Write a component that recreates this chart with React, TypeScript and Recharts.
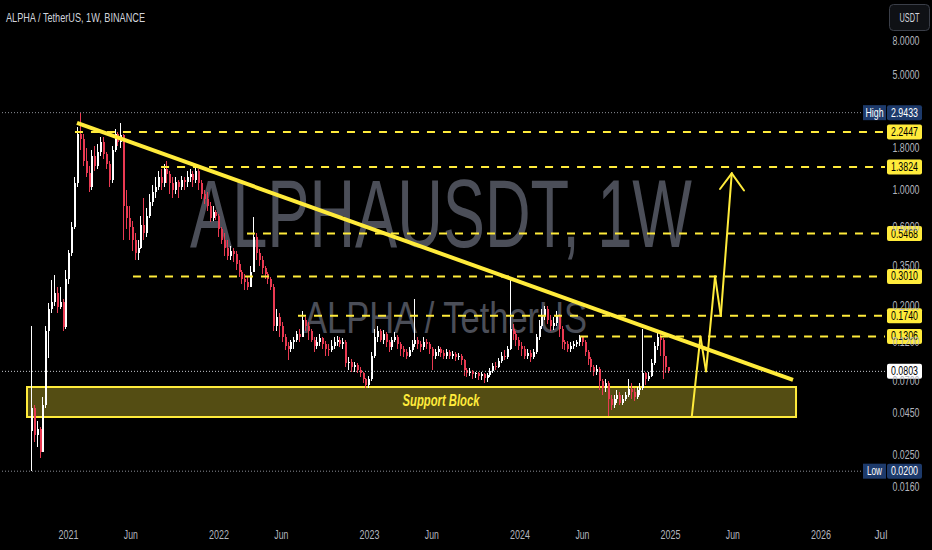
import React from "react";
import { Bar, ComposedChart, ReferenceArea, ReferenceDot, ReferenceLine, XAxis, YAxis } from "recharts";

// weekly candles, first one starts Mon 2020-10-05
const WEEK0 = 2020.7596;
const WEEK = 7 / 365.25;
const OPEN0 = 0.035;

const CLOSE = [
  0.048, 0.033, 0.036, 0.026, 0.05, 0.14, 0.19, 0.21, 0.24, 0.196, 0.21, 0.148, 0.29, 0.42, 0.6, 1.1, 2.2, 2.05, 1.5, 1.27,
  1.05, 1.6, 1.4, 1.7, 1.95, 1.65, 1.45, 1.15, 1.75, 2.2, 1.95, 2.15, 0.8, 0.68, 0.6, 0.5, 0.42, 0.45, 0.62, 0.55,
  0.7, 0.85, 0.98, 1.05, 1.2, 1.1, 1.35, 1.25, 1.1, 1.0, 1.12, 1.05, 1.15, 1.12, 1.2, 1.25, 1.15, 1.3, 1.1, 0.95,
  0.88, 0.8, 0.68, 0.74, 0.7, 0.58, 0.5, 0.45, 0.4, 0.43, 0.41, 0.36, 0.32, 0.29, 0.28, 0.26, 0.32, 0.52, 0.42, 0.38,
  0.34, 0.31, 0.29, 0.26, 0.15, 0.17, 0.15, 0.13, 0.115, 0.11, 0.12, 0.125, 0.135, 0.13, 0.165, 0.15, 0.14, 0.125, 0.115, 0.12,
  0.128, 0.118, 0.11, 0.108, 0.115, 0.12, 0.125, 0.118, 0.12, 0.09, 0.092, 0.085, 0.088, 0.082, 0.078, 0.072, 0.066, 0.072, 0.1, 0.13,
  0.14, 0.125, 0.135, 0.12, 0.112, 0.125, 0.13, 0.118, 0.11, 0.105, 0.1, 0.108, 0.118, 0.125, 0.118, 0.112, 0.12, 0.118, 0.11, 0.1,
  0.105, 0.11, 0.104, 0.1, 0.105, 0.1, 0.102, 0.098, 0.1, 0.094, 0.082, 0.078, 0.08, 0.077, 0.078, 0.075, 0.077, 0.073, 0.076, 0.081,
  0.087, 0.085, 0.093, 0.1, 0.098, 0.11, 0.145, 0.135, 0.125, 0.115, 0.11, 0.1, 0.104, 0.098, 0.105, 0.13, 0.15, 0.175, 0.19, 0.165,
  0.15, 0.158, 0.175, 0.145, 0.12, 0.118, 0.11, 0.115, 0.118, 0.12, 0.13, 0.12, 0.105, 0.095, 0.085, 0.08, 0.083, 0.07, 0.064, 0.068,
  0.055, 0.05, 0.055, 0.058, 0.052, 0.055, 0.058, 0.063, 0.06, 0.056, 0.062, 0.064, 0.078, 0.072, 0.075, 0.09, 0.115, 0.13, 0.125, 0.1,
  0.085, 0.0803,
];
const HIGH = [
  0.15, 0.05, 0.04, 0.037, 0.056, 0.15, 0.207, 0.286, 0.306, 0.26, 0.26, 0.22, 0.33, 0.435, 0.64, 1.2, 2.4, 2.9433, 2.2, 1.8,
  1.4, 1.75, 1.85, 1.9, 2.1, 2.1, 1.7, 1.5, 1.85, 2.35, 2.25, 2.55, 2.2, 1.0, 0.8, 0.65, 0.55, 0.5, 0.7, 0.9,
  0.78, 0.95, 1.08, 1.2, 1.3, 1.35, 1.45, 1.5, 1.3, 1.2, 1.2, 1.15, 1.22, 1.2, 1.3, 1.35, 1.3, 1.4, 1.35, 1.15,
  1.0, 0.98, 0.85, 0.8, 0.76, 0.72, 0.6, 0.55, 0.5, 0.46, 0.45, 0.43, 0.38, 0.33, 0.31, 0.3, 0.35, 0.69, 0.55, 0.44,
  0.4, 0.35, 0.32, 0.3, 0.27, 0.19, 0.18, 0.16, 0.135, 0.12, 0.125, 0.13, 0.14, 0.145, 0.185, 0.17, 0.16, 0.145, 0.13, 0.13,
  0.135, 0.13, 0.122, 0.118, 0.125, 0.13, 0.132, 0.13, 0.128, 0.125, 0.098, 0.095, 0.092, 0.09, 0.085, 0.08, 0.073, 0.075, 0.105, 0.145,
  0.15, 0.145, 0.142, 0.138, 0.125, 0.13, 0.138, 0.133, 0.12, 0.115, 0.11, 0.113, 0.125, 0.22, 0.13, 0.122, 0.13, 0.126, 0.12, 0.112,
  0.11, 0.115, 0.112, 0.108, 0.11, 0.108, 0.107, 0.105, 0.104, 0.102, 0.096, 0.084, 0.084, 0.082, 0.08, 0.08, 0.08, 0.078, 0.078, 0.084,
  0.09, 0.092, 0.097, 0.105, 0.108, 0.115, 0.3, 0.155, 0.14, 0.13, 0.12, 0.115, 0.11, 0.108, 0.11, 0.135, 0.165, 0.19, 0.2, 0.2,
  0.175, 0.17, 0.185, 0.178, 0.15, 0.125, 0.122, 0.12, 0.123, 0.125, 0.134, 0.13, 0.125, 0.108, 0.098, 0.088, 0.088, 0.085, 0.072, 0.072,
  0.07, 0.058, 0.058, 0.062, 0.06, 0.058, 0.06, 0.072, 0.068, 0.064, 0.065, 0.068, 0.145, 0.08, 0.08, 0.095, 0.12, 0.138, 0.14, 0.128,
  0.098, 0.084,
];
const LOW = [
  0.02, 0.03, 0.028, 0.024, 0.026, 0.048, 0.097, 0.18, 0.2, 0.18, 0.19, 0.14, 0.145, 0.27, 0.4, 0.58, 1.05, 1.75, 1.4, 1.2,
  0.97, 1.0, 1.3, 1.35, 1.6, 1.55, 1.35, 1.05, 1.1, 1.7, 1.85, 1.8, 0.5, 0.58, 0.5, 0.43, 0.38, 0.38, 0.44, 0.5,
  0.52, 0.68, 0.8, 0.9, 1.0, 1.0, 1.05, 1.1, 0.95, 0.9, 0.95, 0.9, 1.0, 1.0, 1.05, 1.12, 1.05, 1.1, 1.0, 0.88,
  0.82, 0.75, 0.64, 0.65, 0.66, 0.52, 0.47, 0.4, 0.38, 0.38, 0.37, 0.33, 0.3, 0.27, 0.25, 0.25, 0.26, 0.32, 0.38, 0.35,
  0.31, 0.29, 0.27, 0.25, 0.14, 0.14, 0.13, 0.12, 0.108, 0.094, 0.105, 0.11, 0.12, 0.12, 0.13, 0.14, 0.125, 0.12, 0.105, 0.11,
  0.115, 0.11, 0.1, 0.1, 0.105, 0.11, 0.115, 0.112, 0.11, 0.085, 0.082, 0.08, 0.08, 0.078, 0.074, 0.068, 0.064, 0.064, 0.07, 0.097,
  0.12, 0.12, 0.118, 0.112, 0.105, 0.108, 0.12, 0.11, 0.1, 0.098, 0.095, 0.098, 0.105, 0.112, 0.11, 0.105, 0.108, 0.11, 0.102, 0.082,
  0.095, 0.1, 0.098, 0.095, 0.096, 0.095, 0.096, 0.093, 0.094, 0.088, 0.075, 0.074, 0.075, 0.072, 0.073, 0.071, 0.071, 0.068, 0.069, 0.074,
  0.079, 0.082, 0.084, 0.09, 0.094, 0.095, 0.108, 0.125, 0.115, 0.108, 0.1, 0.095, 0.096, 0.092, 0.095, 0.102, 0.125, 0.145, 0.165, 0.155,
  0.14, 0.142, 0.15, 0.13, 0.11, 0.108, 0.105, 0.105, 0.11, 0.112, 0.115, 0.115, 0.1, 0.088, 0.08, 0.075, 0.076, 0.062, 0.058, 0.06,
  0.043, 0.047, 0.048, 0.052, 0.05, 0.05, 0.053, 0.056, 0.055, 0.053, 0.055, 0.058, 0.062, 0.066, 0.07, 0.074, 0.088, 0.108, 0.1, 0.072,
  0.078, 0.078,
];

const TIME_TICKS = [2021, 2021.414, 2022, 2022.414, 2023, 2023.414, 2024, 2024.415, 2025, 2025.414, 2026];
const TIME_LABELS = ["2021", "Jun", "2022", "Jun", "2023", "Jun", "2024", "Jun", "2025", "Jun", "2026"];
const PRICE_TICKS = [0.016, 0.025, 0.045, 0.07, 0.12, 0.2, 0.35, 0.6, 1, 1.8, 5, 8];

const LEVELS = [2.2447, 1.3824, 0.5468, 0.301, 0.174, 0.1306];
const LEVEL_LABELS = ["2.2447", "1.3824", "0.5468", "0.3010", "0.1740", "0.1306"];
const LEVEL_FROM = [2021.043, 2021.615, 2022.186, 2021.4286, 2022.525, 2024.399];

const HIGH_PRICE = 2.9433;
const LOW_PRICE = 0.02;
const LAST_PRICE = 0.0803;

const TREND_T = [2021.0565, 2025.814];
const TREND_P = [2.549, 0.0712];

const SUPPORT_T = [2020.7243, 2025.834];
const SUPPORT_P = [0.0425, 0.0646];
const SUPPORT_TAG = [2023.475, 0.0535];

const ARROW_T = [2025.141, 2025.199, 2025.236, 2025.296, 2025.334, 2025.407];
const ARROW_P = [0.0425, 0.1306, 0.0803, 0.301, 0.174, 1.265];
const HEAD_T = [2025.329, 2025.4884];
const HEAD_P = [1.017, 0.996];

const X_MIN = 2020.5449;
const X_MAX = 2026.4252;
const Y_MIN = 0.011651;
const Y_MAX = 14.125;

const YELLOW = "#ffeb3b";
const RED = "#ea3a52";
const AXIS_TEXT = "#b2b5be";
const FONT = "'Liberation Sans', Arial, sans-serif";

const candles = CLOSE.map((c, i) => {
  const o = i === 0 ? OPEN0 : CLOSE[i - 1];
  const h = Math.max(HIGH[i], o, c);
  const l = Math.min(LOW[i], o, c);
  return { t: WEEK0 + i * WEEK, o, h, l, c, range: [l, h] };
});

function NText({ x, y, w, size, fill, anchor = "middle", weight, italic, central = true, children }: any) {
  return (
    <text
      x={x}
      y={y}
      fontSize={size}
      fill={fill}
      textAnchor={anchor}
      textLength={w}
      lengthAdjust="spacingAndGlyphs"
      dominantBaseline={central ? "central" : undefined}
      fontFamily={FONT}
      fontWeight={weight}
      fontStyle={italic ? "italic" : undefined}
    >
      {children}
    </text>
  );
}

function Candle(props: any) {
  const { x, y, width, height, payload } = props;
  if (!payload || x == null || y == null) return null;
  const top = Math.min(y, y + height);
  const bot = Math.max(y, y + height);
  const lh = Math.log(payload.h);
  const span = lh - Math.log(payload.l);
  const at = (p: number) => (span > 0 ? top + ((lh - Math.log(p)) / span) * (bot - top) : top);
  const cx = Math.round(x + width / 2);
  const color = payload.c >= payload.o ? "#ffffff" : RED;
  const b1 = at(Math.max(payload.o, payload.c));
  const b2 = at(Math.min(payload.o, payload.c));
  return (
    <g shapeRendering="crispEdges">
      <rect x={cx - 1} y={top} width={1} height={Math.max(bot - top, 1)} fill={color} />
      <rect x={cx - 1} y={b1} width={2} height={Math.max(b2 - b1, 1)} fill={color} />
    </g>
  );
}

function PriceTick(props: any) {
  const { x, y, payload } = props;
  return (
    <NText x={x + 13} y={y} w={27} size={12.5} fill={AXIS_TEXT}>
      {Number(payload.value).toFixed(4)}
    </NText>
  );
}

function TimeTick(props: any) {
  const { x, y, payload } = props;
  const label = TIME_LABELS[TIME_TICKS.indexOf(payload.value)] ?? "";
  return (
    <NText x={x} y={y + 17} w={label.length === 4 ? 20 : 14} size={12.5} fill={AXIS_TEXT}>
      {label}
    </NText>
  );
}

function LevelTag({ viewBox, text, bg = YELLOW, fg = "#000" }: any) {
  if (!viewBox) return null;
  const right = viewBox.x + viewBox.width;
  const cy = viewBox.y;
  return (
    <g>
      <rect x={right + 2} y={cy - 7.5} width={35} height={15} rx={2} fill={bg} />
      <NText x={right + 19.5} y={cy} w={27} size={12.5} fill={fg}>
        {text}
      </NText>
    </g>
  );
}

function ExtremeTag({ viewBox, word, text }: any) {
  if (!viewBox) return null;
  const right = viewBox.x + viewBox.width;
  const cy = viewBox.y;
  return (
    <g>
      <rect x={right - 22} y={cy - 7.5} width={23} height={15} fill="#1d3a6b" />
      <NText x={right - 10.5} y={cy} w={word === "High" ? 18 : 15} size={12.5} fill="#ffffff">
        {word}
      </NText>
      <rect x={right + 2} y={cy - 7.5} width={35} height={15} rx={2} fill="#1d3a6b" />
      <NText x={right + 19.5} y={cy} w={27} size={12.5} fill="#ffffff">
        {text}
      </NText>
    </g>
  );
}

function SupportText({ viewBox }: any) {
  if (!viewBox) return null;
  return (
    <NText
      x={viewBox.x + viewBox.width / 2}
      y={viewBox.y + viewBox.height / 2}
      w={77}
      size={16}
      fill={YELLOW}
      weight="bold"
      italic
    >
      Support Block
    </NText>
  );
}

export default function App() {
  const arrowSegs = ARROW_T.slice(1).map((t, i) => [
    { x: ARROW_T[i], y: ARROW_P[i] },
    { x: t, y: ARROW_P[i + 1] },
  ]);
  const tip = { x: ARROW_T[ARROW_T.length - 1], y: ARROW_P[ARROW_P.length - 1] };
  const headSegs = HEAD_T.map((t, i) => [tip, { x: t, y: HEAD_P[i] }]);

  return (
    <div style={{ position: "fixed", left: 0, top: 0, width: 932, height: 550, background: "#000", overflow: "hidden" }}>
      <svg width={932} height={550} style={{ position: "absolute", left: 0, top: 0 }}>
        <NText x={190} y={247} w={502} size={96} fill="#4b4e58" anchor="start" central={false}>
          ALPHAUSDT, 1W
        </NText>
        <NText x={304} y={333} w={283} size={45} fill="#4b4e58" anchor="start" central={false}>
          ALPHA / TetherUS
        </NText>
        <NText x={6} y={17.7} w={139} size={13.5} fill="#d1d4dc" anchor="start">
          ALPHA / TetherUS, 1W, BINANCE
        </NText>
        <rect x={889.5} y={4.5} width={40} height={26} rx={4} fill="#0f1115" stroke="#3a3e48" />
        <NText x={909.5} y={17.5} w={20} size={12} fill="#d1d4dc">
          USDT
        </NText>
        <NText x={881} y={535} w={13} size={12.5} fill={AXIS_TEXT}>
          Jul
        </NText>
      </svg>
      <div style={{ position: "absolute", left: 0, top: 0 }}>
        <ComposedChart width={932} height={550} data={candles} margin={{ top: 0, right: 0, bottom: 0, left: 0 }}>
          <XAxis
            dataKey="t"
            type="number"
            domain={[X_MIN, X_MAX]}
            allowDataOverflow
            ticks={TIME_TICKS}
            interval={0}
            tick={<TimeTick />}
            axisLine={false}
            tickLine={false}
            height={40}
          />
          <YAxis
            orientation="right"
            scale="log"
            domain={[Y_MIN, Y_MAX]}
            allowDataOverflow
            ticks={PRICE_TICKS}
            interval={0}
            tick={<PriceTick />}
            axisLine={false}
            tickLine={false}
            width={47}
          />
          <ReferenceLine y={HIGH_PRICE} stroke="#8b8e97" strokeDasharray="1 2" />
          <ReferenceLine y={LOW_PRICE} stroke="#8b8e97" strokeDasharray="1 2" />
          <ReferenceLine y={LAST_PRICE} stroke="#c8cad0" strokeDasharray="1 2" />
          <Bar dataKey="range" barSize={2} shape={Candle} isAnimationActive={false} />
          <ReferenceArea
            x1={SUPPORT_T[0]}
            x2={SUPPORT_T[1]}
            y1={SUPPORT_P[0]}
            y2={SUPPORT_P[1]}
            fill={YELLOW}
            fillOpacity={0.33}
            stroke={YELLOW}
            strokeWidth={2}
          />
          {LEVELS.map((lv, i) => (
            <ReferenceLine
              key={lv}
              segment={[
                { x: LEVEL_FROM[i], y: lv },
                { x: X_MAX, y: lv },
              ]}
              stroke={YELLOW}
              strokeWidth={2}
              strokeDasharray="8 8"
              label={(p: any) => <LevelTag viewBox={p.viewBox} text={LEVEL_LABELS[i]} />}
            />
          ))}
          <ReferenceLine
            segment={[
              { x: TREND_T[0], y: TREND_P[0] },
              { x: TREND_T[1], y: TREND_P[1] },
            ]}
            stroke={YELLOW}
            strokeWidth={4}
          />
          {arrowSegs.concat(headSegs).map((seg, i) => (
            <ReferenceLine key={"a" + i} segment={seg} stroke={YELLOW} strokeWidth={2} strokeLinecap="round" />
          ))}
          <ReferenceDot
            x={SUPPORT_TAG[0]}
            y={SUPPORT_TAG[1]}
            r={1}
            fill="none"
            stroke="none"
            label={(p: any) => <SupportText viewBox={p.viewBox} />}
          />
          <ReferenceLine
            y={HIGH_PRICE}
            stroke="none"
            label={(p: any) => <ExtremeTag viewBox={p.viewBox} word="High" text="2.9433" />}
          />
          <ReferenceLine
            y={LOW_PRICE}
            stroke="none"
            label={(p: any) => <ExtremeTag viewBox={p.viewBox} word="Low" text="0.0200" />}
          />
          <ReferenceLine
            y={LAST_PRICE}
            stroke="none"
            label={(p: any) => <LevelTag viewBox={p.viewBox} text="0.0803" bg="#ffffff" />}
          />
        </ComposedChart>
      </div>
    </div>
  );
}
